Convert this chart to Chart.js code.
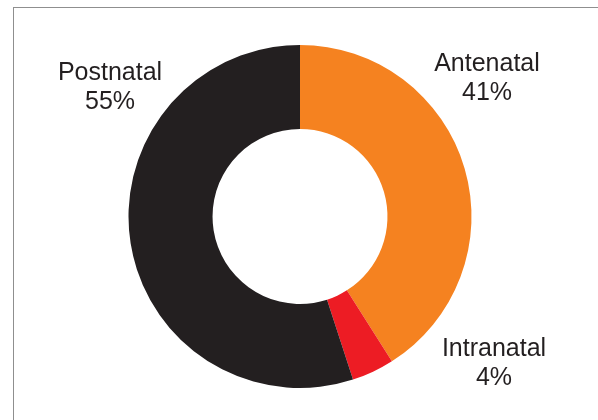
<!DOCTYPE html>
<html>
<head>
<meta charset="utf-8">
<script src="https://cdn.jsdelivr.net/npm/chart.js@4.4.0/dist/chart.umd.min.js"></script>
<style>
  html, body { margin: 0; padding: 0; background: #fff; }
  #wrap { position: relative; width: 598px; height: 420px; overflow: hidden; }
  #frame { position: absolute; left: 13px; top: 7px; width: 700px; height: 500px; border: 1px solid #8f8f8f; }
  #chartBox { position: absolute; left: 0; top: 0; width: 598px; height: 420px; }
</style>
</head>
<body>
<div id="wrap">
  <div id="frame"></div>
  <div id="chartBox"><canvas id="donut"></canvas></div>
</div>
<script>
// Dữ liệu
const categories = ['Antenatal', 'Intranatal', 'Postnatal'];
const shares = [41, 4, 55];
const sliceColors = ['#f58220', '#ed1c24', '#231f20'];
// vị trí nhãn (tính từ tâm biểu đồ)
const labelOffsets = [[187, -152], [194, 133], [-190, -143]];

const labelPlugin = {
    id: 'sliceLabels',
    afterDatasetsDraw(chart) {
        const ctx = chart.ctx;
        const arc = chart.getDatasetMeta(0).data[0];
        ctx.save();
        ctx.font = '25px "Liberation Sans", Arial, sans-serif';
        ctx.fillStyle = '#231f20';
        ctx.textAlign = 'center';
        ctx.textBaseline = 'middle';
        categories.forEach((name, i) => {
            const x = arc.x + labelOffsets[i][0];
            const y = arc.y + labelOffsets[i][1];
            ctx.fillText(name, x, y);
            ctx.fillText(shares[i] + '%', x, y + 29);
        });
        ctx.restore();
    }
};

const donutCtx = document.getElementById('donut').getContext('2d');
const donut = new Chart(donutCtx, {
    type: 'doughnut',
    data: {
        labels: categories,
        datasets: [{
            data: shares,
            backgroundColor: sliceColors,
            borderWidth: 0
        }]
    },
    options: {
        responsive: true,
        maintainAspectRatio: false,
        animation: false,
        cutout: '51%',
        layout: { padding: { left: 128.5, right: 126.5, top: 45, bottom: 32 } },
        plugins: {
            legend: { display: false },
            tooltip: { enabled: false }
        }
    },
    plugins: [labelPlugin]
});
</script>
</body>
</html>
